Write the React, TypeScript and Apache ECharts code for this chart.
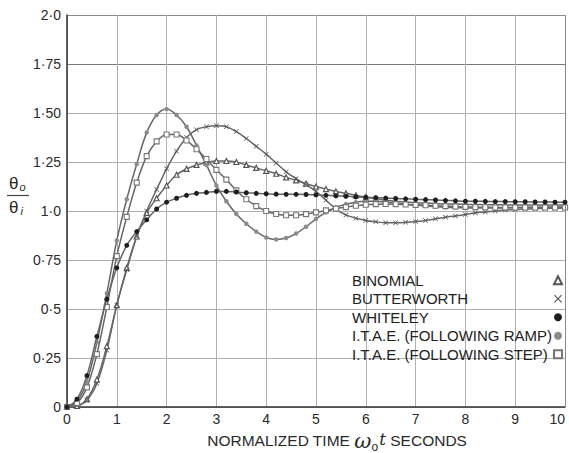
import React, { useEffect, useRef } from "react";
import * as echarts from "echarts";

const times = [0, 0.2, 0.4, 0.6, 0.8, 1.0, 1.2, 1.4, 1.6, 1.8, 2.0, 2.2, 2.4, 2.6, 2.8, 3.0, 3.2, 3.4, 3.6, 3.8, 4.0, 4.2, 4.4, 4.6, 4.8, 5.0, 5.2, 5.4, 5.6, 5.8, 6.0, 6.2, 6.4, 6.6, 6.8, 7.0, 7.2, 7.4, 7.6, 7.8, 8.0, 8.2, 8.4, 8.6, 8.8, 9.0, 9.2, 9.4, 9.6, 9.8, 10.0];

const binomial = [0, 0.005, 0.04, 0.14, 0.31, 0.52, 0.71, 0.87, 0.99, 1.065, 1.13, 1.185, 1.215, 1.235, 1.248, 1.255, 1.255, 1.25, 1.235, 1.22, 1.205, 1.19, 1.172, 1.156, 1.14, 1.125, 1.112, 1.1, 1.09, 1.08, 1.07, 1.062, 1.056, 1.05, 1.046, 1.042, 1.04, 1.038, 1.036, 1.035, 1.034, 1.033, 1.032, 1.032, 1.031, 1.031, 1.03, 1.03, 1.03, 1.03, 1.03];

const butterworth = [0, 0.005, 0.035, 0.12, 0.29, 0.52, 0.7, 0.87, 1.0, 1.11, 1.215, 1.305, 1.375, 1.415, 1.43, 1.435, 1.43, 1.405, 1.37, 1.33, 1.29, 1.245, 1.2, 1.165, 1.135, 1.1, 1.055, 1.01, 0.98, 0.963, 0.952, 0.945, 0.94, 0.94, 0.942, 0.946, 0.952, 0.96, 0.968, 0.975, 0.982, 0.99, 0.995, 1.0, 1.005, 1.008, 1.01, 1.012, 1.013, 1.014, 1.015];

const whiteley = [0, 0.04, 0.16, 0.36, 0.55, 0.71, 0.825, 0.895, 0.955, 1.01, 1.045, 1.065, 1.08, 1.09, 1.095, 1.1, 1.1, 1.097, 1.093, 1.09, 1.088, 1.086, 1.085, 1.085, 1.084, 1.082, 1.08, 1.077, 1.075, 1.072, 1.07, 1.068, 1.066, 1.064, 1.062, 1.06, 1.058, 1.056, 1.054, 1.052, 1.05, 1.05, 1.049, 1.048, 1.048, 1.047, 1.047, 1.046, 1.046, 1.045, 1.045];

const itaeRamp = [0, 0.03, 0.13, 0.33, 0.58, 0.85, 1.06, 1.24, 1.4, 1.49, 1.52, 1.49, 1.43, 1.335, 1.235, 1.13, 1.05, 0.985, 0.935, 0.895, 0.865, 0.855, 0.862, 0.885, 0.92, 0.96, 0.993, 1.018, 1.035, 1.045, 1.05, 1.05, 1.046, 1.04, 1.035, 1.03, 1.026, 1.022, 1.019, 1.017, 1.016, 1.015, 1.015, 1.015, 1.016, 1.017, 1.018, 1.019, 1.02, 1.02, 1.02];

const itaeStep = [0, 0.02, 0.1, 0.27, 0.51, 0.77, 0.97, 1.145, 1.28, 1.355, 1.39, 1.39, 1.36, 1.315, 1.265, 1.21, 1.16, 1.105, 1.06, 1.025, 1.0, 0.985, 0.978, 0.978, 0.984, 0.993, 1.003, 1.012, 1.02, 1.027, 1.032, 1.035, 1.036, 1.035, 1.033, 1.031, 1.029, 1.027, 1.025, 1.023, 1.021, 1.02, 1.019, 1.018, 1.018, 1.018, 1.018, 1.018, 1.018, 1.018, 1.018];

const seriesNames = [
  "BINOMIAL",
  "BUTTERWORTH",
  "WHITELEY",
  "I.T.A.E. (FOLLOWING RAMP)",
  "I.T.A.E. (FOLLOWING STEP)",
];

const yTickValues = [0, 0.25, 0.5, 0.75, 1.0, 1.25, 1.5, 1.75, 2.0];
const yTickLabels = ["0", "0·25", "0·5", "0·75", "1·0", "1·25", "1·50", "1·75", "2·0"];
const xTickLabels = ["0", "1", "2", "3", "4", "5", "6", "7", "8", "9", "10"];

const CROSS = "path://M1,0 L5,4 L9,0 L10,1 L6,5 L10,9 L9,10 L5,6 L1,10 L0,9 L4,5 L0,1 Z";
const FONT = "Liberation Sans, Arial, sans-serif";
const LINE = "#666666";

function pairs(vals: number[]) {
  return times.map((t, i) => [t, vals[i]]);
}

export default function App() {
  const ref = useRef<HTMLDivElement>(null);
  useEffect(() => {
    document.body.style.margin = "0";
    if (!ref.current) return;
    const chart = echarts.init(ref.current, undefined, { renderer: "svg" });
    const mk = (
      name: string,
      vals: number[],
      symbol: string,
      size: number,
      itemStyle: any,
      z: number
    ) => ({
      name,
      type: "line",
      data: pairs(vals),
      smooth: 0.35,
      symbol,
      symbolSize: size,
      showSymbol: true,
      lineStyle: { color: LINE, width: 1.5 },
      itemStyle,
      z,
      emphasis: { disabled: true },
    });
    chart.setOption({
      animation: false,
      grid: { left: 67, right: 4, top: 15, bottom: 46, containLabel: false, outerBoundsMode: "none" },
      legend: {
        orient: "vertical",
        left: 347,
        top: 266,
        align: "right",
        itemGap: 0,
        itemWidth: 8,
        itemHeight: 8,
        selectedMode: false,
        formatter: (name: string) => "{n|" + name + "}",
        textStyle: {
          fontFamily: FONT,
          fontSize: 15,
          color: "#222",
          lineHeight: 18.5,
          rich: {
            n: { fontFamily: FONT, fontSize: 15, color: "#222", width: 197, align: "left", lineHeight: 18.5 },
          },
        },
        data: [
          { name: seriesNames[0], icon: "triangle" },
          { name: seriesNames[1], icon: CROSS },
          { name: seriesNames[2], icon: "circle" },
          { name: seriesNames[3], icon: "circle" },
          { name: seriesNames[4], icon: "rect" },
        ],
      },
      xAxis: {
        type: "value",
        min: 0,
        max: 10,
        interval: 1,
        axisLine: { show: true, lineStyle: { color: "#333", width: 1.5 } },
        axisTick: { show: false },
        axisLabel: {
          margin: 5,
          fontFamily: FONT,
          fontSize: 14,
          color: "#2a2a2a",
          alignMaxLabel: "right",
          formatter: (v: number) => xTickLabels[Math.round(v)] ?? "",
        },
        splitLine: { show: true, lineStyle: { color: "#b0b0b0", width: 1 } },
        name: "{a|NORMALIZED TIME }{w|ω}{o|o}{t|t}{a| SECONDS}",
        nameLocation: "middle",
        nameGap: 18,
        nameTextStyle: {
          padding: [0, 0, 0, 42],
          rich: {
            a: { fontFamily: FONT, fontSize: 15.5, color: "#2a2a2a", verticalAlign: "top", padding: [2, 0, 0, 0] },
            w: { fontFamily: "DejaVu Serif, serif", fontStyle: "italic", fontSize: 21, color: "#2a2a2a", verticalAlign: "top" },
            o: { fontFamily: FONT, fontSize: 12, color: "#2a2a2a", verticalAlign: "top", padding: [10, 0, 0, 0] },
            t: { fontFamily: "DejaVu Serif, serif", fontStyle: "italic", fontSize: 17, color: "#2a2a2a", verticalAlign: "top", padding: [0, 0, 0, 1] },
          },
        },
      },
      yAxis: {
        type: "value",
        min: 0,
        max: 2,
        interval: 0.25,
        axisLine: { show: true, lineStyle: { color: "#333", width: 1.5 } },
        axisTick: { show: false },
        axisLabel: {
          margin: 6,
          fontFamily: FONT,
          fontSize: 14,
          color: "#2a2a2a",
          formatter: (v: number) => {
            const i = yTickValues.findIndex((y) => Math.abs(y - v) < 1e-6);
            return i >= 0 ? yTickLabels[i] : "";
          },
        },
        splitLine: {
          show: true,
          lineStyle: {
            color: ["#b0b0b0", "#b0b0b0", "#b0b0b0", "#b0b0b0", "#b0b0b0", "#b0b0b0", "#b0b0b0", "#7a7a7a", "#8a8a8a"],
            width: 1,
          },
        },
      },
      graphic: [
        { type: "line", shape: { x1: 565.5, y1: 15, x2: 565.5, y2: 407 }, style: { stroke: "#8a8a8a", lineWidth: 1 }, z: 5 },
        { type: "text", x: 9, y: 183, style: { text: "θ", font: "17px " + FONT, fill: "#2a2a2a", textVerticalAlign: "middle" } },
        { type: "text", x: 19.5, y: 187, style: { text: "o", font: "italic 11px " + FONT, fill: "#2a2a2a", textVerticalAlign: "middle" } },
        { type: "line", shape: { x1: 7, y1: 195.5, x2: 29, y2: 195.5 }, style: { stroke: "#444", lineWidth: 1.2 } },
        { type: "text", x: 9, y: 207, style: { text: "θ", font: "17px " + FONT, fill: "#2a2a2a", textVerticalAlign: "middle" } },
        { type: "text", x: 20.5, y: 211, style: { text: "i", font: "italic 11px " + FONT, fill: "#2a2a2a", textVerticalAlign: "middle" } },
      ],
      series: [
        mk(seriesNames[0], binomial, "triangle", 5, { color: "#ffffff", borderColor: "#555", borderWidth: 1.2 }, 3),
        mk(seriesNames[1], butterworth, CROSS, 5, { color: "#555" }, 3),
        mk(seriesNames[2], whiteley, "circle", 5, { color: "#1e1e1e" }, 6),
        mk(seriesNames[3], itaeRamp, "circle", 4.5, { color: "#8c8c8c" }, 4),
        mk(seriesNames[4], itaeStep, "rect", 5, { color: "#ffffff", borderColor: "#777", borderWidth: 1.1 }, 4),
      ],
    });
    return () => chart.dispose();
  }, []);
  return <div ref={ref} style={{ width: 569, height: 453 }} />;
}
